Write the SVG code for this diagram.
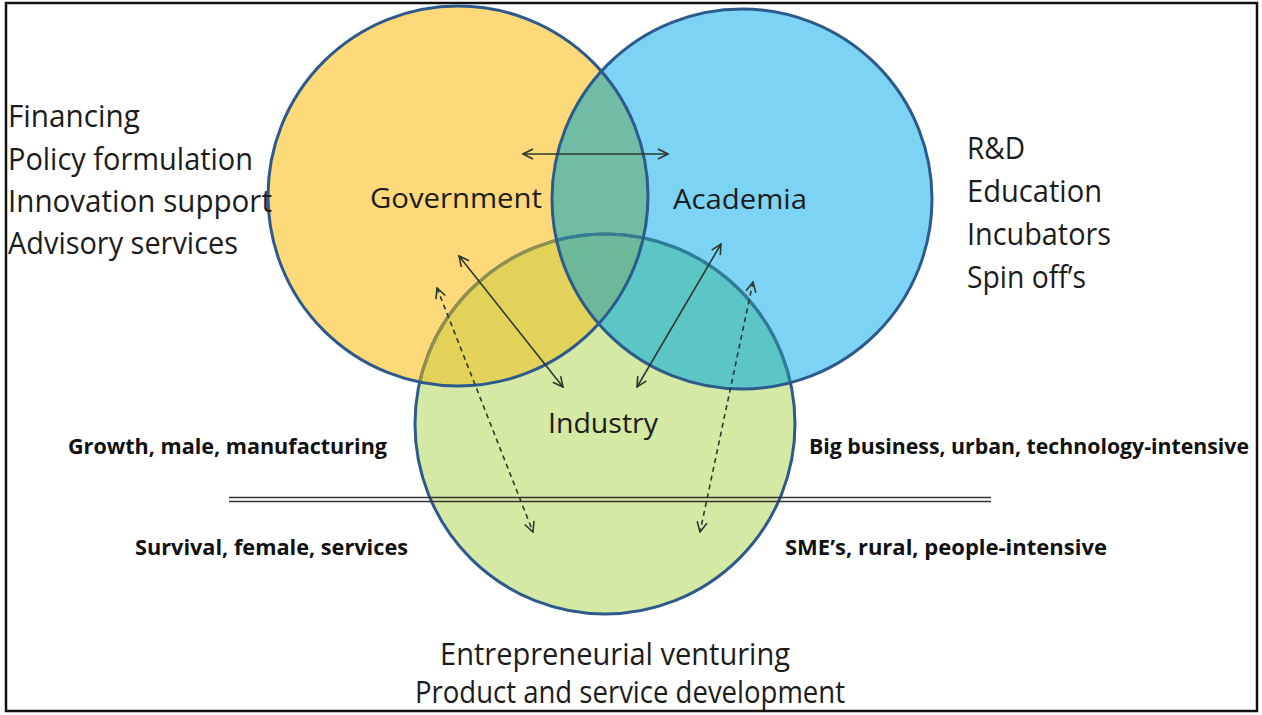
<svg xmlns="http://www.w3.org/2000/svg" width="1262" height="715" viewBox="0 0 1262 715">
<defs>
<style>
.t{font-family:"Open Sans","Noto Sans",sans-serif;fill:#1c1c1c}
.big{font-size:31px}
.lbl{font-size:28px}
.bold{font-size:22px;font-weight:700;fill:#111}
.outline{fill:none;stroke:#2d5a8c;stroke-width:3}
.conn{stroke:#2b3a30;stroke-width:1.6;fill:none}
.dash{stroke-dasharray:5 4}
</style>
<clipPath id="cg"><circle cx="458" cy="196" r="190"/></clipPath>
<clipPath id="ca"><circle cx="742" cy="199" r="190"/></clipPath>
<clipPath id="ci"><circle cx="605" cy="424" r="190"/></clipPath>
<marker id="ah" viewBox="0 0 12 12" refX="11" refY="6" markerWidth="12" markerHeight="12" markerUnits="userSpaceOnUse" orient="auto-start-reverse"><path d="M1,1 L11,6 L1,11" fill="none" stroke="#2b3a30" stroke-width="1.6"/></marker>
</defs>
<rect x="0" y="0" width="1262" height="715" fill="#ffffff"/>
<rect x="6" y="3" width="1251" height="708" fill="none" stroke="#111" stroke-width="2.5"/>

<g id="fills">
<circle cx="458" cy="196" r="190" fill="#fdd97a"/>
<circle cx="742" cy="199" r="190" fill="#7cd3f4"/>
<circle cx="605" cy="424" r="190" fill="#d4e9a3"/>
<g clip-path="url(#cg)"><circle cx="742" cy="199" r="190" fill="#70bca5"/></g>
<g clip-path="url(#cg)"><circle cx="605" cy="424" r="190" fill="#e3d25a"/></g>
<g clip-path="url(#ca)"><circle cx="605" cy="424" r="190" fill="#5cc5c6"/></g>
<g clip-path="url(#cg)"><g clip-path="url(#ca)"><circle cx="605" cy="424" r="190" fill="#6cb899"/></g></g>
</g>

<g id="industry">
<circle class="outline" cx="605" cy="424" r="190"/>
<g clip-path="url(#cg)"><circle cx="605" cy="424" r="190" fill="none" stroke="#8f9148" stroke-width="3"/></g>
<g clip-path="url(#ca)"><circle cx="605" cy="424" r="190" fill="none" stroke="#2f7e98" stroke-width="3"/></g>
<text class="t lbl" x="548" y="433" textLength="110" lengthAdjust="spacingAndGlyphs">Industry</text>
</g>
<g id="government">
<circle class="outline" cx="458" cy="196" r="190"/>
<text class="t lbl" x="370" y="208" textLength="172" lengthAdjust="spacingAndGlyphs">Government</text>
</g>
<g id="academia">
<circle class="outline" cx="742" cy="199" r="190"/>
<text class="t lbl" x="673" y="209" textLength="134" lengthAdjust="spacingAndGlyphs">Academia</text>
</g>

<g id="gov-roles">
<text class="t big" x="8" y="127" textLength="132" lengthAdjust="spacingAndGlyphs">Financing</text>
<text class="t big" x="8" y="170" textLength="245" lengthAdjust="spacingAndGlyphs">Policy formulation</text>
<text class="t big" x="8" y="212" textLength="264" lengthAdjust="spacingAndGlyphs">Innovation support</text>
<text class="t big" x="8" y="254" textLength="230" lengthAdjust="spacingAndGlyphs">Advisory services</text>
</g>
<g id="acad-roles">
<text class="t big" x="967" y="159" textLength="58" lengthAdjust="spacingAndGlyphs">R&amp;D</text>
<text class="t big" x="967" y="202" textLength="135" lengthAdjust="spacingAndGlyphs">Education</text>
<text class="t big" x="967" y="245" textLength="144" lengthAdjust="spacingAndGlyphs">Incubators</text>
<text class="t big" x="967" y="288" textLength="119" lengthAdjust="spacingAndGlyphs">Spin off’s</text>
</g>
<g id="ind-roles">
<text class="t big" x="440" y="665" textLength="350" lengthAdjust="spacingAndGlyphs">Entrepreneurial venturing</text>
<text class="t big" x="415" y="703" textLength="430" lengthAdjust="spacingAndGlyphs">Product and service development</text>
</g>
<g id="segments">
<text class="t bold" x="68" y="454" textLength="319" lengthAdjust="spacingAndGlyphs">Growth, male, manufacturing</text>
<text class="t bold" x="135" y="555" textLength="273" lengthAdjust="spacingAndGlyphs">Survival, female, services</text>
<text class="t bold" x="809" y="454" textLength="440" lengthAdjust="spacingAndGlyphs">Big business, urban, technology-intensive</text>
<text class="t bold" x="785" y="555" textLength="322" lengthAdjust="spacingAndGlyphs">SME’s, rural, people-intensive</text>
<line x1="229" y1="497.5" x2="991" y2="497.5" stroke="#333" stroke-width="1.6"/>
<line x1="229" y1="501.5" x2="991" y2="501.5" stroke="#333" stroke-width="1.6"/>
</g>

<g id="connectors">
<line class="conn" x1="523" y1="154" x2="668" y2="154" marker-start="url(#ah)" marker-end="url(#ah)"/>
<line class="conn" x1="459" y1="256" x2="563" y2="387" marker-start="url(#ah)" marker-end="url(#ah)"/>
<line class="conn" x1="721" y1="244" x2="637" y2="387" marker-start="url(#ah)" marker-end="url(#ah)"/>
<line class="conn dash" x1="437" y1="288" x2="533" y2="532" marker-start="url(#ah)" marker-end="url(#ah)"/>
<line class="conn dash" x1="753" y1="282" x2="700" y2="532" marker-start="url(#ah)" marker-end="url(#ah)"/>
</g>
</svg>
